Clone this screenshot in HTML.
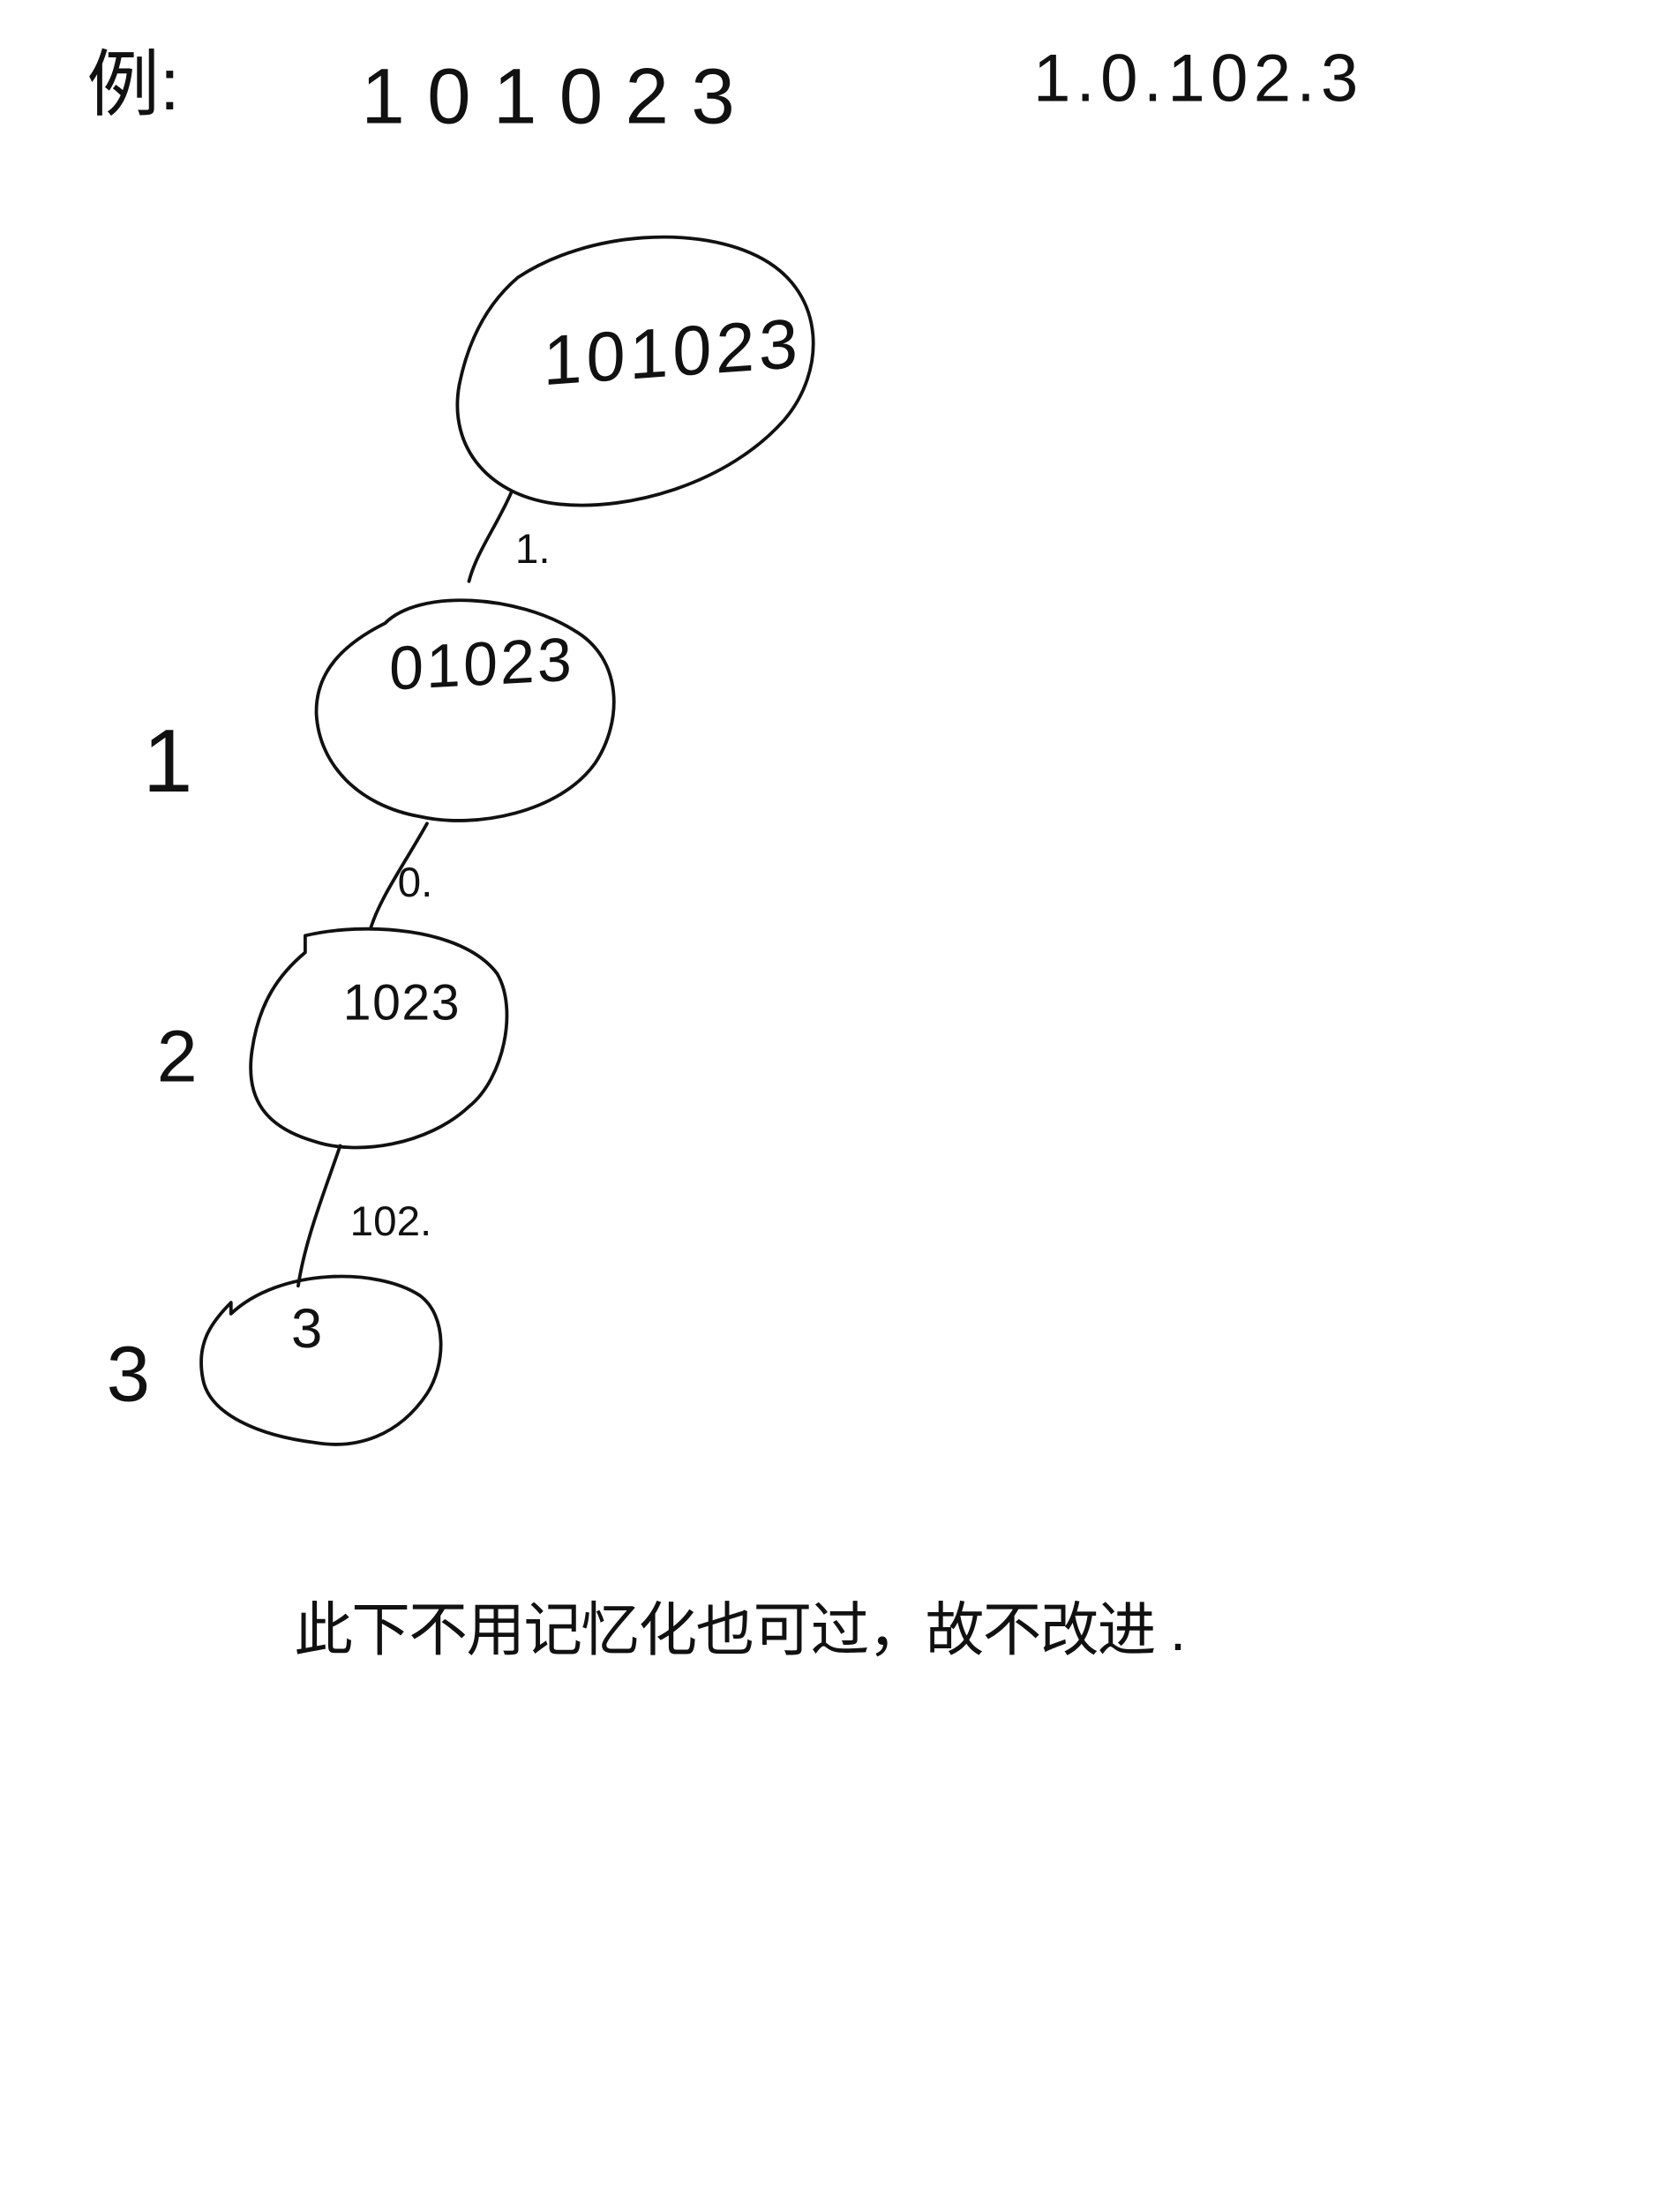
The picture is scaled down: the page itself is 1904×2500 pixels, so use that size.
<!DOCTYPE html>
<html>
<head>
<meta charset="utf-8">
<style>
  html,body{margin:0;padding:0;background:#fff;}
  svg{display:block;}
  text{font-family:"Liberation Sans","Noto Sans CJK SC",sans-serif;fill:#111;font-weight:normal;}
  .hw{stroke:#111;stroke-width:2.4;fill:none;stroke-linecap:round;stroke-linejoin:round;}
</style>
</head>
<body>
<svg width="1904" height="2500" viewBox="0 0 1200 1575" preserveAspectRatio="none">
  <rect width="1200" height="1575" fill="#fff"/>

  <text x="62" y="78" font-size="52">例:</text>
  <text x="258" y="88" font-size="56" letter-spacing="16" font-weight="300">101023</text>
  <text x="738" y="72" font-size="48" letter-spacing="4" font-weight="300">1.0.102.3</text>

  <path class="hw"
    d="M370,198 C420,165 500,160 545,185 C590,210 590,265 560,300 C520,345 450,365 400,360 C350,355 320,320 328,275 C335,240 350,215 370,198 Z"/>
  <text x="388" y="302" font-size="50" letter-spacing="3" font-weight="300" transform="skewY(-4)">101023</text>

  <path class="hw" d="M365,352 C355,375 340,395 335,415"/>
  <text x="368" y="402" font-size="30" font-weight="300">1.</text>

  <path class="hw"
    d="M275,445 C300,420 370,425 410,450 C445,470 445,515 425,545 C400,580 340,592 300,583 C255,575 228,545 226,510 C225,480 245,460 275,445 Z"/>
  <text x="278" y="507" font-size="44" letter-spacing="2" font-weight="300" transform="skewY(-3)">01023</text>

  <path class="hw" d="M305,588 C290,615 272,640 265,662"/>
  <text x="284" y="640" font-size="30" font-weight="300">0.</text>

  <path class="hw"
    d="M218,668 C260,658 330,662 355,695 C370,720 360,770 335,790 C305,818 255,825 225,815 C190,805 175,785 180,750 C185,715 200,695 218,680 Z"/>
  <text x="245" y="728" font-size="36" letter-spacing="1" font-weight="300">1023</text>

  <path class="hw" d="M243,818 C232,850 218,885 213,918"/>
  <text x="250" y="882" font-size="30" font-weight="300">102.</text>

  <path class="hw"
    d="M165,938 C200,905 270,905 300,925 C320,940 318,975 305,995 C285,1025 255,1035 225,1030 C185,1025 150,1010 145,985 C140,960 150,945 165,930 Z"/>
  <text x="208" y="962" font-size="40" font-weight="300">3</text>

  <text x="102" y="565" font-size="64" font-weight="300">1</text>
  <text x="112" y="772" font-size="52" font-weight="300">2</text>
  <text x="76" y="1000" font-size="56" font-weight="300">3</text>

  <text x="210" y="1178" font-size="42" font-weight="300" letter-spacing="-1">此下不用记忆化也可过，故不改进 .</text>
</svg>
</body>
</html>
